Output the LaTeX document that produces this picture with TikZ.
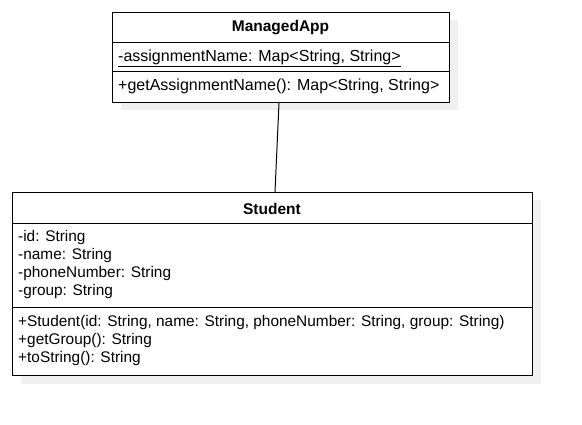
\documentclass[tikz,border=0pt]{standalone}
\usepackage{fontspec}
\setmainfont{Liberation Sans}
\usetikzlibrary{shadows}
\begin{document}
\begin{tikzpicture}[x=1pt,y=-1pt,
  box/.style={draw=black, line width=1pt, fill=white, inner sep=0pt, anchor=north west,
    drop shadow={shadow xshift=8pt, shadow yshift=-8pt, opacity=1, fill=black!6}},
  sep/.style={draw=black, line width=1pt},
  txt/.style={anchor=west, inner sep=0pt, font=\fontsize{15.4}{18}\selectfont},
  txtw/.style={txt, font=\fontsize{16}{18}\selectfont},
  ttl/.style={inner sep=0pt, font=\bfseries\fontsize{15.5}{18}\selectfont},
  assoc/.style={draw=black, line width=1pt}]
\useasboundingbox (0,0) rectangle (582,425);
% ManagedApp class
\node[box, minimum width=337pt, minimum height=90pt] (ma) at (112,12) {};
\draw[sep] (ma.west |- 0,43) -- (ma.east |- 0,43);
\draw[sep] (ma.west |- 0,72) -- (ma.east |- 0,72);
\node[ttl] (maT) at (280.5,28) {ManagedApp};
\node[txtw] (maA) at (118,58) {\underline{-assignmentName: Map<String, String>}};
\node[txtw] (maM) at (118,86) {+getAssignmentName(): Map<String, String>};
% Student class
\node[box, minimum width=520pt, minimum height=183pt] (st) at (12,192) {};
\draw[sep] (st.west |- 0,224) -- (st.east |- 0,224);
\draw[sep] (st.west |- 0,308) -- (st.east |- 0,308);
\node[ttl] (stT) at (272,209) {Student};
\node[txt] (stA1) at (18,238) {-id: String};
\node[txt] (stA2) at (18,256) {-name: String};
\node[txt] (stA3) at (18,274) {-phoneNumber: String};
\node[txt] (stA4) at (18,292) {-group: String};
\node[txt] (stM1) at (18,323) {+Student(id: String, name: String, phoneNumber: String, group: String)};
\node[txt] (stM2) at (18,341) {+getGroup(): String};
\node[txt] (stM3) at (18,359) {+toString(): String};
% association
\draw[assoc] (279,0 |- ma.south) -- (275,0 |- st.north);
\end{tikzpicture}
\end{document}
